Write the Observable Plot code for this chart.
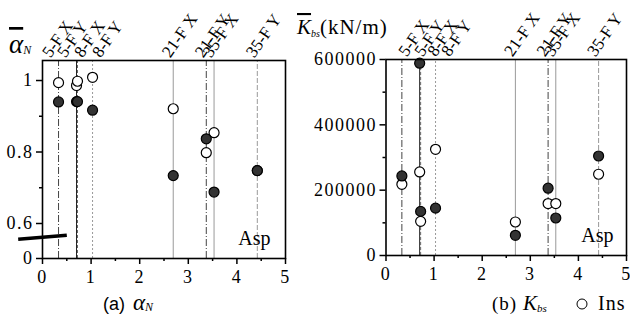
<!DOCTYPE html>
<html>
<head>
<meta charset="utf-8">
<script src="https://cdn.jsdelivr.net/npm/d3@7"></script>
<script src="https://cdn.jsdelivr.net/npm/@observablehq/plot@0.6"></script>
<style>
  html, body { margin: 0; padding: 0; background: #fff; }
  #wrap { position: relative; width: 630px; height: 322px; overflow: hidden; background: #fff; }
  #a, #b, #ov { position: absolute; top: 0; }
  #a { left: 0; }
  #b { left: 300px; }
  #ov { left: 0; pointer-events: none; }
  #a svg, #b svg { font-family: "Liberation Serif", serif !important; font-size: 18px !important; }
</style>
</head>
<body>
<div id="wrap">
  <div id="a"></div>
  <div id="b"></div>
  <svg id="ov" width="630" height="322" font-family="Liberation Serif, serif">
    <text x="9" y="53" font-size="27" font-style="italic"><tspan text-decoration="overline">α</tspan><tspan font-size="12" dy="1">N</tspan></text>
    <text x="297" y="34" font-size="21"><tspan font-style="italic" text-decoration="overline">K</tspan><tspan font-size="10" font-style="italic" dy="3">bs</tspan><tspan dy="-3" letter-spacing="1">(kN/m)</tspan></text>
    <text x="103" y="310" font-size="18" font-family="Liberation Sans, sans-serif">(a)</text>
    <text x="133" y="310" font-size="23" font-style="italic">α<tspan font-size="12" dy="1">N</tspan></text>
    <text x="492" y="310" font-size="19" letter-spacing="1">(b)</text>
    <text x="523" y="310" font-size="21" font-style="italic">K<tspan font-size="11" dy="2">bs</tspan></text>
    <circle cx="582" cy="304" r="5" fill="white" stroke="black"></circle>
    <text x="598" y="310" font-size="20" letter-spacing="1">Ins</text>
  </svg>
</div>
<script>
// ---- data ----
const buildings = ["5-F X", "5-F Y", "8-F X", "8-F Y", "21-F X", "21-F Y", "35-F X", "35-F Y"];
const period = [0.33, 0.70, 0.72, 1.03, 2.69, 3.37, 3.53, 4.42];
const alphaIns = [0.994, 0.986, 0.998, 1.009, 0.921, 0.798, 0.854, 0.748];
const alphaFilled = [0.940, 0.941, 0.941, 0.917, 0.734, 0.837, 0.688, 0.748];
const kbsIns = [218000, 255800, 104500, 325000, 102600, 159000, 159000, 248800];
const kbsFilled = [243600, 588700, 135000, 145000, 61800, 206000, 114800, 304600];
const xTicks = [0, 1, 2, 3, 4, 5];
const xMinorTicks = [0.5, 1.5, 2.5, 3.5, 4.5];
const alphaTicks = [0, 0.6, 0.8, 1];
const alphaMinorTicks = [0.7, 0.9];
const kbsTicks = [0, 200000, 400000, 600000];
const kbsMinorTicks = [100000, 300000, 500000];

// ---- styles ----
const lineStyle = {
  "5-F X": {stroke: "#444", dash: "7,2,1,2"},
  "5-F Y": {stroke: "#222", dash: null},
  "8-F X": {stroke: "#666", dash: "3,2"},
  "8-F Y": {stroke: "#999", dash: "2,2"},
  "21-F X": {stroke: "#999", dash: null},
  "21-F Y": {stroke: "#444", dash: "7,2,1,2"},
  "35-F X": {stroke: "#999", dash: null},
  "35-F Y": {stroke: "#999", dash: "5,2"}
};
// pixel nudges of the rotated building labels (per panel), to keep them apart
const labelNudgeA = {"5-F X": -8, "5-F Y": -11, "8-F X": 5, "8-F Y": 8, "21-F X": -3, "21-F Y": -3, "35-F X": -3, "35-F Y": -3};
const labelNudgeB = {"5-F X": 5, "5-F Y": 3, "8-F X": 15, "8-F Y": 14, "21-F X": -3, "21-F Y": -3, "35-F X": -3, "35-F Y": -3};

function rows(insVals, filledVals) {
  return buildings.map((name, i) => ({name, x: period[i], ins: insVals[i], filled: filledVals[i]}));
}

function panel(opts) {
  const data = rows(opts.ins, opts.filled);
  const yTop = opts.yDomain[opts.yDomain.length - 1];
  const svg = Plot.plot({
    width: opts.width, height: 290,
    marginLeft: opts.marginLeft, marginRight: opts.marginRight,
    marginTop: opts.marginTop, marginBottom: 290 - opts.bottom,
    style: "font-family: 'Liberation Serif', serif; font-size: 18px; background: transparent; overflow: visible; color: black;",
    x: {domain: [0, 5]},
    y: {type: "linear", domain: opts.yDomain, range: opts.yRange},
    marks: [
      ...data.map(d => Plot.ruleX([d], {x: "x", y1: opts.yDomain[0], y2: yTop,
        stroke: lineStyle[d.name].stroke, strokeDasharray: lineStyle[d.name].dash, strokeWidth: 1})),
      Plot.dot(data, {x: "x", y: "ins", r: 5, fill: "white", stroke: "black", strokeWidth: 1.2}),
      Plot.dot(data, {x: "x", y: "filled", r: 5, fill: "#333", stroke: "black", strokeWidth: 1.2}),
      Plot.frame({stroke: "black", strokeWidth: 1.6}),
      Plot.axisX({ticks: xTicks, tickSize: 6, tickPadding: 6, label: null, tickFormat: d => String(d), strokeWidth: 1.5}),
      Plot.axisX({ticks: xMinorTicks, tickSize: 3, text: null, label: null, strokeWidth: 1.5}),
      Plot.axisY({ticks: opts.yTicks, tickSize: 6, tickPadding: 3, label: null, tickFormat: d => String(d), strokeWidth: 1.5}),
      Plot.axisY({ticks: opts.yMinor, tickSize: 3, text: null, label: null, strokeWidth: 1.5}),
      ...data.map(d => Plot.text([d], {x: "x", text: "name", frameAnchor: "top", rotate: -55, textAnchor: "start",
        lineAnchor: "bottom", dy: -2, dx: opts.nudge[d.name], fontSize: 17})),
      Plot.text(["Asp"], {frameAnchor: "bottom-right", dx: opts.aspDx, dy: -14, textAnchor: "end",
        lineAnchor: "bottom", fontSize: 20}),
      ...(opts.extra || [])
    ]
  });
  d3.select(svg).selectAll("g[aria-label='y-axis tick label'] text, g[aria-label='x-axis tick label'] text")
    .attr("letter-spacing", 1.5);
  return svg;
}

// axis-break symbol on the left panel
const breakMark = [{x1: -0.5, y1: 0.33, x2: 0.5, y2: 0.40}];

document.getElementById("a").appendChild(panel({
  width: 300, marginLeft: 42, marginRight: 15, marginTop: 60, bottom: 258,
  yDomain: [0, 0.6, 1.056], yRange: [258, 223, 60],
  yTicks: alphaTicks, yMinor: alphaMinorTicks, nudge: labelNudgeA,
  ins: alphaIns, filled: alphaFilled, aspDx: -15,
  extra: [Plot.link(breakMark, {x1: "x1", y1: "y1", x2: "x2", y2: "y2", stroke: "black", strokeWidth: 3.5, clip: false})]
}));

document.getElementById("b").appendChild(panel({
  width: 330, marginLeft: 85.5, marginRight: 4, marginTop: 59, bottom: 255,
  yDomain: [0, 600000], yRange: [255, 59],
  yTicks: kbsTicks, yMinor: kbsMinorTicks, nudge: labelNudgeB,
  ins: kbsIns, filled: kbsFilled, aspDx: -13
}));
</script>
</body>
</html>
